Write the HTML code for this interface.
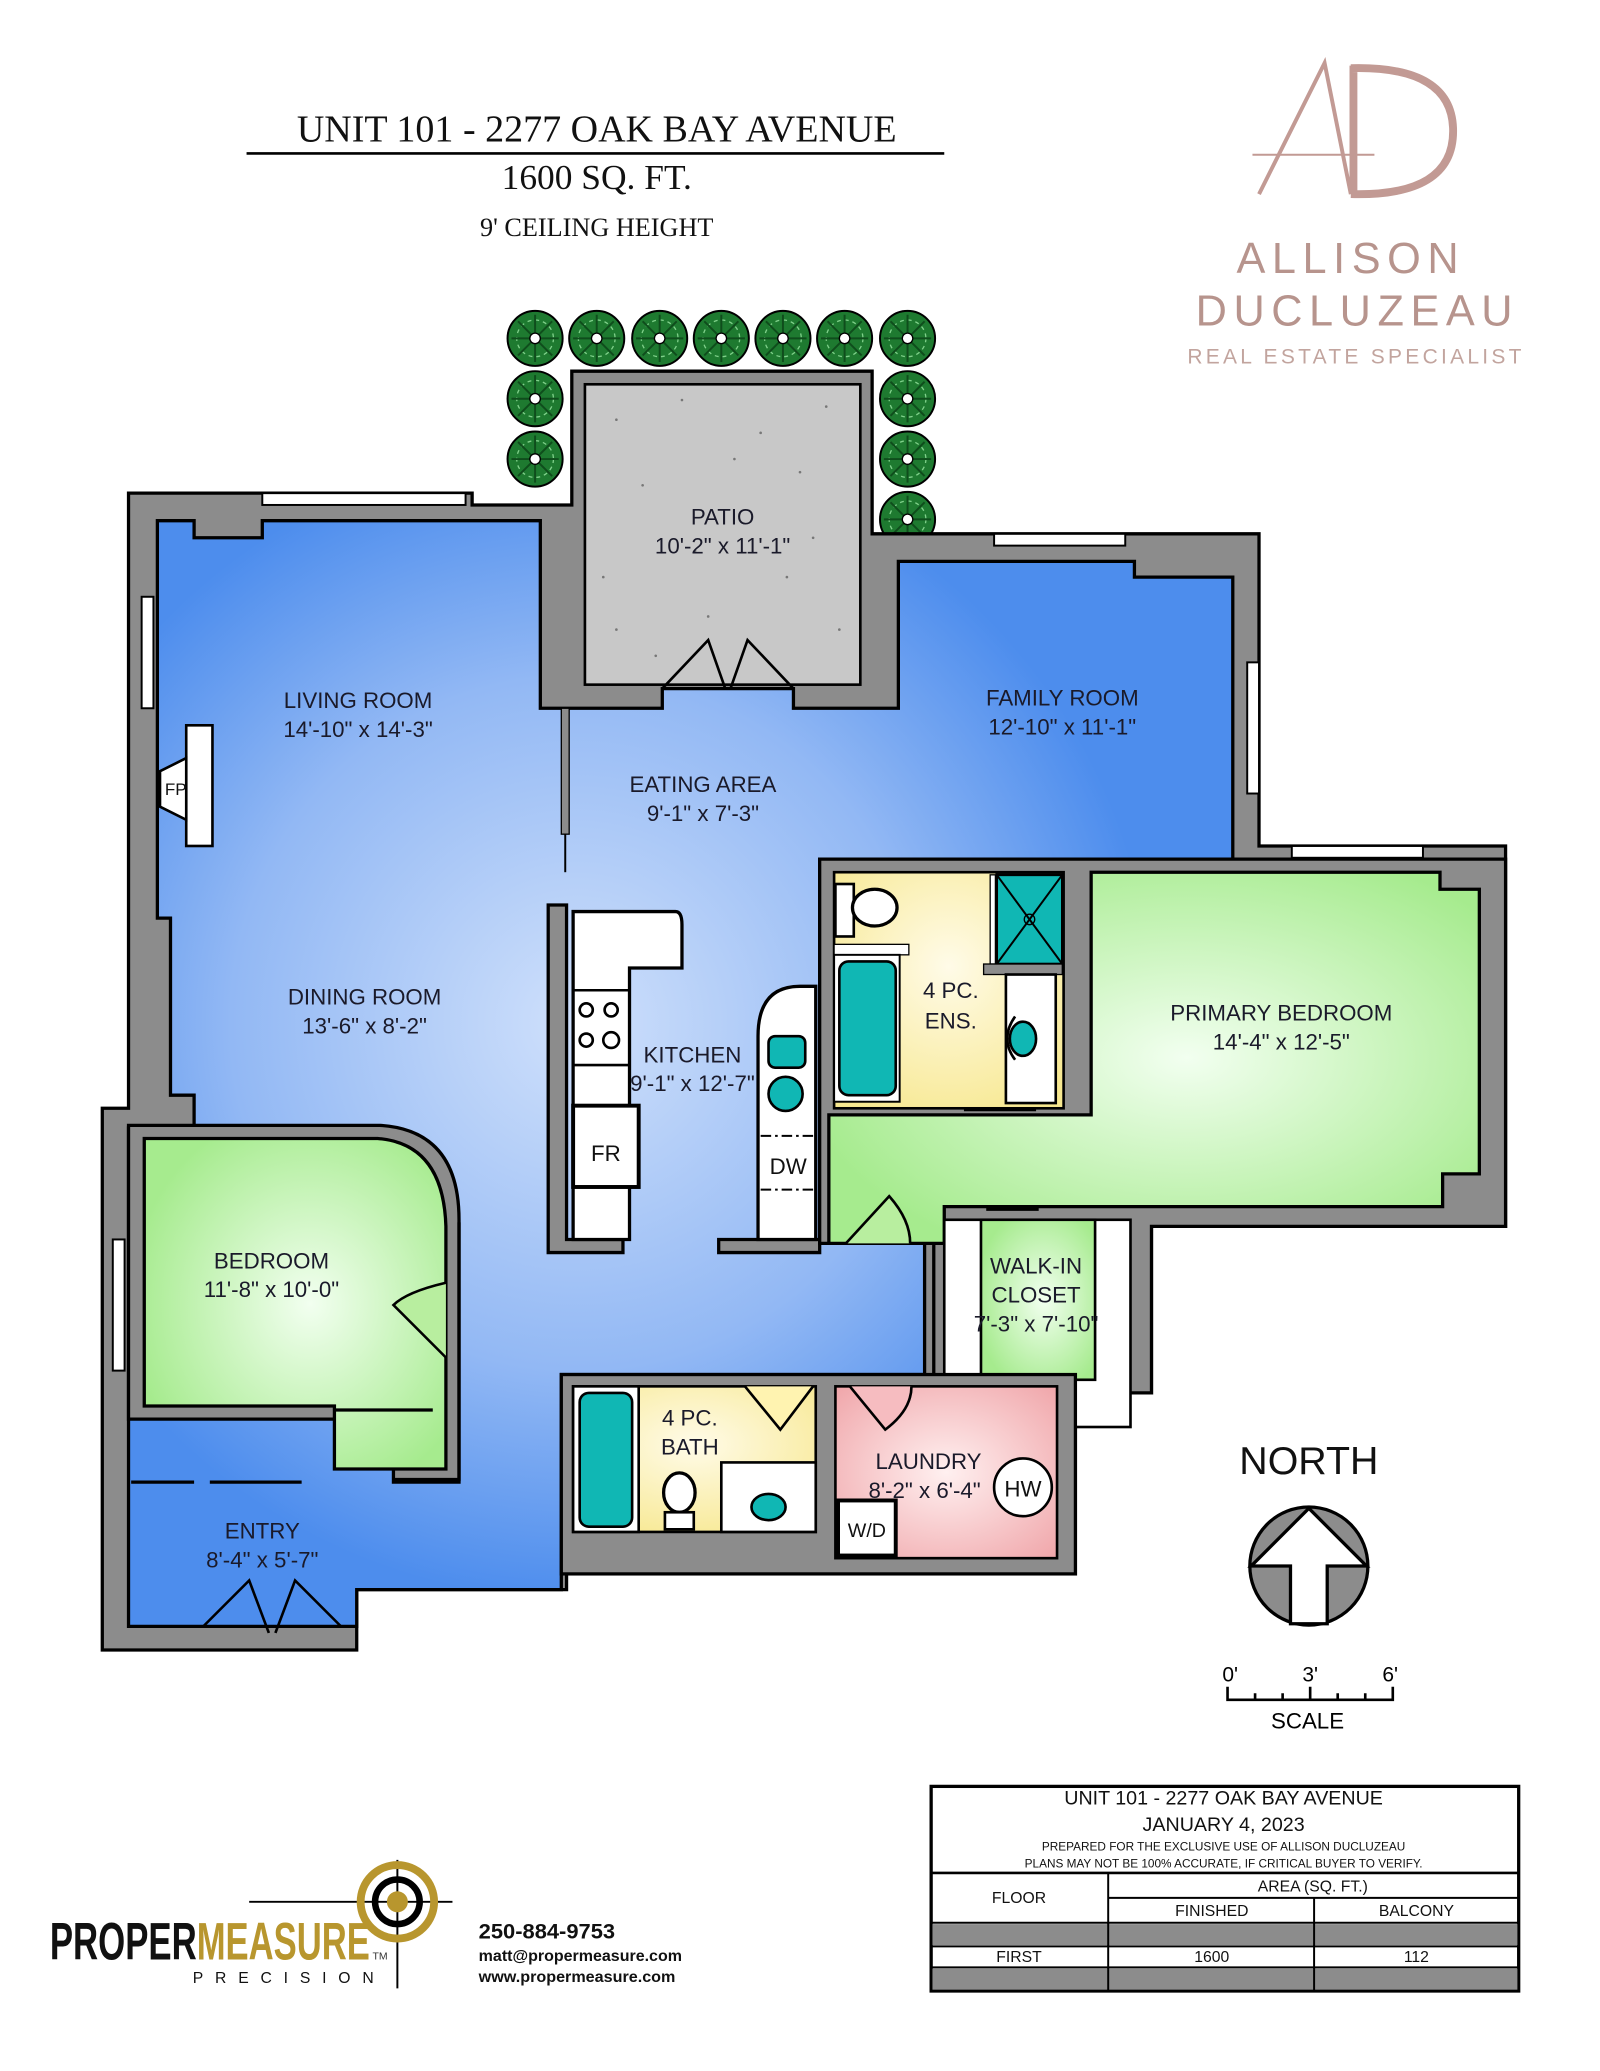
<!DOCTYPE html>
<html><head><meta charset="utf-8"><style>
html,body{margin:0;padding:0;background:#fff;}
svg{display:block;}
text{font-family:"Liberation Sans",sans-serif;}
.lb{font-size:17px;fill:#1a1a2a;text-anchor:middle;}
.sf{font-family:"Liberation Serif",serif;text-anchor:middle;fill:#111;}
.w{fill:#8c8c8c;stroke:#000;stroke-width:2.5;}
.k{stroke:#000;stroke-width:2.5;}
</style></head><body>
<svg width="1600" height="2071" viewBox="0 0 1220 1579" preserveAspectRatio="none" xmlns="http://www.w3.org/2000/svg">
<defs>
<radialGradient id="bl" gradientUnits="userSpaceOnUse" cx="440" cy="780" r="440">
<stop offset="0" stop-color="#cfe0fb"/><stop offset="0.6" stop-color="#92b8f4"/><stop offset="1" stop-color="#4d8ded"/></radialGradient>
<radialGradient id="gr" cx="0.55" cy="0.5" r="0.6">
<stop offset="0" stop-color="#f2fff0"/><stop offset="1" stop-color="#a6eb8e"/></radialGradient>
<radialGradient id="ye" cx="0.5" cy="0.4" r="0.7">
<stop offset="0" stop-color="#fffbe8"/><stop offset="1" stop-color="#f7e890"/></radialGradient>
<radialGradient id="pk" cx="0.5" cy="0.5" r="0.7">
<stop offset="0" stop-color="#fff0f0"/><stop offset="1" stop-color="#f0a6aa"/></radialGradient>
<g id="tree"><circle r="21" fill="#1e7a30" stroke="#000" stroke-width="1.5"/>
<circle r="14" fill="none" stroke="#7fd08a" stroke-width="1" stroke-dasharray="3 3"/>
<path d="M-18 0H18M0-18V18M-13-13L13 13M13-13L-13 13" stroke="#0f4d1c" stroke-width="1.5"/>
<circle r="4" fill="#fff" stroke="#000"/></g>
</defs>

<text x="455" y="108" class="sf" font-size="29">UNIT 101 - 2277 OAK BAY AVENUE</text>
<line x1="188" y1="117" x2="720" y2="117" stroke="#000" stroke-width="2"/>
<text x="455" y="144" class="sf" font-size="27">1600 SQ. FT.</text>
<text x="455" y="180" class="sf" font-size="20">9' CEILING HEIGHT</text>

<g fill="none" stroke="#c29a94" stroke-width="3">
<path d="M960 148 L1010 48 L1030 148"/><line x1="955" y1="118" x2="1048" y2="118" stroke-width="1.5"/>
<path d="M1032 50 L1032 148 M1030 52 Q1108 50 1108 100 Q1108 150 1030 148" stroke-width="6"/>
</g>
<text x="1030" y="208" font-family="Liberation Sans" font-size="33" fill="#b7948d" text-anchor="middle" letter-spacing="5">ALLISON</text>
<text x="1035" y="248" font-family="Liberation Sans" font-size="33" fill="#b7948d" text-anchor="middle" letter-spacing="5">DUCLUZEAU</text>
<text x="1034" y="277" font-family="Liberation Sans" font-size="16" fill="#c2a49e" text-anchor="middle" letter-spacing="2.5">REAL ESTATE SPECIALIST</text>

<g>
<use href="#tree" x="408" y="258"/><use href="#tree" x="455" y="258"/><use href="#tree" x="503" y="258"/><use href="#tree" x="550" y="258"/><use href="#tree" x="597" y="258"/><use href="#tree" x="644" y="258"/><use href="#tree" x="692" y="258"/>
<use href="#tree" x="408" y="304"/><use href="#tree" x="408" y="350"/>
<use href="#tree" x="692" y="304"/><use href="#tree" x="692" y="350"/><use href="#tree" x="692" y="396"/>
</g>

<path class="w" d="M98 376 L360 376 L360 385 L436 385 L436 283 L665 283 L665 407 L865 407 L865 407 L960 407 L960 645 L1148 645 L1148 935 L878 935 L878 1062 L820 1062 L820 1200 L625 1200 L625 1172 L432 1172 L432 1212 L272 1212 L272 1258 L78 1258 L78 845 L98 845 Z"/>
<g fill="#fff" stroke="#000" stroke-width="1.5">
<rect x="200" y="376" width="155" height="9"/><rect x="758" y="407" width="100" height="9"/>
<rect x="985" y="645" width="100" height="9"/><rect x="1139" y="735" width="9" height="100"/>
<rect x="951" y="505" width="9" height="100"/><rect x="108" y="455" width="9" height="85"/>
<rect x="136" y="730" width="9" height="100"/><rect x="86" y="945" width="9" height="100"/>
</g>

<rect x="446" y="293" width="210" height="229" fill="#c8c8c8" stroke="#000" stroke-width="2"/>
<g fill="#777">
<circle cx="470" cy="320" r="1"/><circle cx="520" cy="305" r="1"/><circle cx="580" cy="330" r="1"/><circle cx="630" cy="310" r="1"/><circle cx="490" cy="370" r="1"/><circle cx="610" cy="360" r="1"/><circle cx="460" cy="440" r="1"/><circle cx="540" cy="470" r="1"/><circle cx="600" cy="440" r="1"/><circle cx="640" cy="480" r="1"/><circle cx="500" cy="500" r="1"/><circle cx="560" cy="350" r="1"/><circle cx="470" cy="480" r="1"/><circle cx="620" cy="410" r="1"/><circle cx="530" cy="420" r="1"/></g>
<text x="551" y="400" class="lb">PATIO</text>
<text x="551" y="422" class="lb">10'-2" x 11'-1"</text>

<path fill="url(#bl)" stroke="#000" stroke-width="2.5" d="M120 397 L148 397 L148 410 L200 410 L200 397 L412 397 L412 540 L505 540 L505 525 L605 525 L605 540 L685 540 L685 428 L865 428 L865 440 L940 440 L940 655 L625 655 L625 948 L705 948 L705 1048 L428 1048 L428 1212 L272 1212 L272 1240 L98 1240 L98 860 L148 860 L148 835 L130 835 L130 700 L120 700 Z"/>
<path d="M100 1130 L148 1130 M160 1130 L230 1130" stroke="#000" stroke-width="2.5"/>
<path d="M505 525 L540 488 L553 525 M605 525 L570 488 L557 525" fill="none" stroke="#000" stroke-width="2"/>
<path d="M155 1240 L190 1205 L205 1245 M260 1240 L225 1205 L210 1245" fill="none" stroke="#000" stroke-width="2"/>
<rect x="428" y="540" width="6" height="96" fill="#8c8c8c" stroke="#000"/>
<line x1="431" y1="636" x2="431" y2="665" stroke="#000" stroke-width="1.5"/>
<rect x="142" y="553" width="20" height="92" fill="#fff" stroke="#000" stroke-width="2"/>
<path d="M142 578 L122 588 L122 615 L142 625 Z" fill="#fff" stroke="#000" stroke-width="2"/>
<text x="134" y="606" font-size="13" text-anchor="middle" fill="#111">FP</text>

<path class="w" d="M98 858 L290 858 Q350 862 350 930 L350 1130 L300 1130 L300 1082 L98 1082 Z" stroke="none"/>
<path fill="url(#gr)" stroke="#000" stroke-width="2.5" d="M110 868 L288 868 Q338 872 340 935 L340 1120 L255 1120 L255 1072 L110 1072 Z"/>
<path d="M350 932 L350 1128 L300 1128" fill="none" stroke="#000" stroke-width="2.5"/>
<path d="M340 978 Q310 985 300 995 L340 1035" fill="#b8ee9f" stroke="#000" stroke-width="2"/>
<path d="M255 1075 L330 1075" stroke="#000" stroke-width="2.5"/>

<path class="w" d="M418 690 L432 690 L432 945 L475 945 L475 955 L418 955 Z"/>
<path fill="#fff" stroke="#000" stroke-width="2.5" d="M437 695 L515 695 Q520 695 520 705 L520 738 L480 738 L480 945 L437 945 Z"/>
<line x1="437" y1="755" x2="480" y2="755" stroke="#000" stroke-width="2"/>
<line x1="437" y1="812" x2="480" y2="812" stroke="#000" stroke-width="2"/>
<g fill="none" stroke="#000" stroke-width="2"><circle cx="447" cy="770" r="5"/><circle cx="466" cy="770" r="5"/><circle cx="447" cy="793" r="5"/><circle cx="466" cy="793" r="6"/></g>
<rect x="437" y="843" width="50" height="62" fill="#fff" stroke="#000" stroke-width="3"/>
<text x="462" y="885" font-size="17" text-anchor="middle" fill="#111">FR</text>
<path class="w" d="M548 945 L625 945 L625 955 L548 955 Z"/>
<path fill="#fff" stroke="#000" stroke-width="2.5" d="M578 945 L578 790 Q578 752 610 752 L622 752 L622 945 Z"/>
<rect x="586" y="790" width="28" height="24" rx="5" fill="#10b7b4" stroke="#000" stroke-width="2"/>
<circle cx="599" cy="834" r="13" fill="#10b7b4" stroke="#000" stroke-width="2"/>
<path d="M580 866 L620 866 M580 907 L620 907" stroke="#000" stroke-width="1.5" stroke-dasharray="8 3 2 3"/>
<text x="601" y="895" font-size="17" text-anchor="middle" fill="#111">DW</text>

<path class="w" d="M625 655 L1148 655 L1148 935 L878 935 L878 1062 L806 1062 L806 1090 L712 1090 L712 948 L625 948 Z"/>
<rect x="636" y="665" width="175" height="180" fill="url(#ye)" stroke="#000" stroke-width="2"/>
<rect x="760" y="667" width="50" height="68" fill="#10b7b4" stroke="#000" stroke-width="2"/>
<path d="M760 667 L810 735 M810 667 L760 735" stroke="#000" stroke-width="1.5"/>
<circle cx="785" cy="701" r="4" fill="none" stroke="#000"/>
<rect x="755" y="667" width="4" height="68" fill="#fff" stroke="#000"/>
<rect x="750" y="735" width="60" height="8" fill="#8c8c8c" stroke="#000"/>
<rect x="767" y="743" width="38" height="98" fill="#fff" stroke="#000" stroke-width="2"/>
<ellipse cx="780" cy="792" rx="10" ry="13" fill="#10b7b4" stroke="#000" stroke-width="2"/>
<path d="M774 775 Q762 792 774 808" fill="none" stroke="#000" stroke-width="2"/>
<rect x="636" y="720" width="57" height="8" fill="#fff" stroke="#000"/>
<rect x="636" y="728" width="50" height="112" fill="#fff" stroke="#000" stroke-width="1.5"/>
<rect x="640" y="733" width="43" height="102" rx="7" fill="#10b7b4" stroke="#000" stroke-width="2"/>
<rect x="637" y="674" width="14" height="40" fill="#fff" stroke="#000" stroke-width="2"/>
<ellipse cx="667" cy="692" rx="17" ry="14" fill="#fff" stroke="#000" stroke-width="2.5"/>
<path d="M735 846 L790 846" stroke="#000" stroke-width="2.5"/>
<path fill="url(#gr)" stroke="#000" stroke-width="2.5" d="M832 665 L1098 665 L1098 678 L1128 678 L1128 895 L1100 895 L1100 920 L720 920 L720 948 L632 948 L632 850 L832 850 Z"/>
<path d="M645 948 L678 912 Q694 930 694 948" fill="#b8ee9f" stroke="#000" stroke-width="2"/>
<path d="M752 922 L792 922" stroke="#000" stroke-width="2.5"/>
<rect x="720" y="930" width="142" height="158" fill="#fff" stroke="#000" stroke-width="2"/>
<rect x="748" y="930" width="87" height="122" fill="url(#gr)" stroke="#000" stroke-width="2"/>
<rect x="720" y="1052" width="85" height="36" fill="#fff" stroke="#000" stroke-width="2"/>

<rect x="428" y="1048" width="392" height="152" class="w" stroke="none"/>
<rect x="437" y="1057" width="185" height="111" fill="url(#ye)" stroke="#000" stroke-width="2"/>
<rect x="437" y="1057" width="50" height="111" fill="#fff" stroke="#000" stroke-width="2"/>
<rect x="442" y="1062" width="40" height="102" rx="7" fill="#10b7b4" stroke="#000" stroke-width="2"/>
<rect x="550" y="1115" width="72" height="53" fill="#fff" stroke="#000" stroke-width="2"/>
<ellipse cx="586" cy="1149" rx="13" ry="10" fill="#10b7b4" stroke="#000" stroke-width="2"/>
<ellipse cx="518" cy="1138" rx="12" ry="15" fill="#fff" stroke="#000" stroke-width="2.5"/>
<rect x="507" y="1153" width="22" height="13" fill="#fff" stroke="#000" stroke-width="2"/>
<path d="M568 1057 L595 1090 L620 1057" fill="#fff3b0" stroke="#000" stroke-width="2"/>
<rect x="637" y="1057" width="169" height="131" fill="url(#pk)" stroke="#000" stroke-width="2"/>
<path d="M648 1057 L675 1090 Q695 1075 695 1057" fill="#f6bcc0" stroke="#000" stroke-width="2"/>
<rect x="639" y="1144" width="44" height="42" fill="#fff" stroke="#000" stroke-width="3"/>
<text x="661" y="1172" font-size="15" text-anchor="middle" fill="#111">W/D</text>
<circle cx="780" cy="1134" r="22" fill="#fff" stroke="#000" stroke-width="2"/>
<text x="780" y="1141" font-size="17" text-anchor="middle" fill="#111">HW</text>

<text x="273" y="540" class="lb">LIVING ROOM</text><text x="273" y="562" class="lb">14'-10" x 14'-3"</text>
<text x="536" y="604" class="lb">EATING AREA</text><text x="536" y="626" class="lb">9'-1" x 7'-3"</text>
<text x="810" y="538" class="lb">FAMILY ROOM</text><text x="810" y="560" class="lb">12'-10" x 11'-1"</text>
<text x="278" y="766" class="lb">DINING ROOM</text><text x="278" y="788" class="lb">13'-6" x 8'-2"</text>
<text x="528" y="810" class="lb">KITCHEN</text><text x="528" y="832" class="lb">9'-1" x 12'-7"</text>
<text x="725" y="761" class="lb">4 PC.</text><text x="725" y="784" class="lb">ENS.</text>
<text x="977" y="778" class="lb">PRIMARY BEDROOM</text><text x="977" y="800" class="lb">14'-4" x 12'-5"</text>
<text x="207" y="967" class="lb">BEDROOM</text><text x="207" y="989" class="lb">11'-8" x 10'-0"</text>
<text x="790" y="971" class="lb">WALK-IN</text><text x="790" y="993" class="lb">CLOSET</text><text x="790" y="1015" class="lb">7'-3" x 7'-10"</text>
<text x="526" y="1087" class="lb">4 PC.</text><text x="526" y="1109" class="lb">BATH</text>
<text x="708" y="1120" class="lb">LAUNDRY</text><text x="705" y="1142" class="lb">8'-2" x 6'-4"</text>
<text x="200" y="1173" class="lb">ENTRY</text><text x="200" y="1195" class="lb">8'-4" x 5'-7"</text>

<text x="998" y="1124" font-size="30" text-anchor="middle" fill="#111">NORTH</text>
<circle cx="998" cy="1194" r="45" fill="#8c8c8c" stroke="#000" stroke-width="2.5"/>
<path d="M998 1150 L1042 1194 L1012 1194 L1012 1238 L984 1238 L984 1194 L954 1194 Z" fill="#fff" stroke="#000" stroke-width="2.5"/>
<text x="938" y="1282" font-size="16" text-anchor="middle">0'</text><text x="999" y="1282" font-size="16" text-anchor="middle">3'</text><text x="1060" y="1282" font-size="16" text-anchor="middle">6'</text>
<path d="M936 1286 V1296 H1062 V1286 M957 1291V1296 M978 1291V1296 M999 1286V1296 M1020 1291V1296 M1041 1291V1296" fill="none" stroke="#000" stroke-width="2"/>
<text x="997" y="1318" font-size="17" text-anchor="middle">SCALE</text>

<g stroke="#000" fill="none">
<rect x="710" y="1362" width="448" height="156" stroke-width="2.5"/>
<line x1="710" y1="1428" x2="1158" y2="1428" stroke-width="2"/>
<line x1="845" y1="1447" x2="1158" y2="1447" stroke-width="1.5"/>
<line x1="710" y1="1466" x2="1158" y2="1466" stroke-width="1.5"/>
<line x1="710" y1="1484" x2="1158" y2="1484" stroke-width="1.5"/>
<line x1="710" y1="1500" x2="1158" y2="1500" stroke-width="1.5"/>
<line x1="845" y1="1428" x2="845" y2="1518" stroke-width="1.5"/>
<line x1="1002" y1="1447" x2="1002" y2="1518" stroke-width="1.5"/>
</g>
<rect x="711" y="1467" width="446" height="16" fill="#8c8c8c"/>
<rect x="711" y="1501" width="446" height="16" fill="#8c8c8c"/>
<path d="M845 1466V1484 M1002 1466V1484 M845 1500V1518 M1002 1500V1518" stroke="#000" stroke-width="1.5"/>
<g text-anchor="middle" fill="#111">
<text x="933" y="1376" font-size="15">UNIT 101 - 2277 OAK BAY AVENUE</text>
<text x="933" y="1396" font-size="15">JANUARY 4, 2023</text>
<text x="933" y="1411" font-size="9">PREPARED FOR THE EXCLUSIVE USE OF ALLISON DUCLUZEAU</text>
<text x="933" y="1424" font-size="9">PLANS MAY NOT BE 100% ACCURATE, IF CRITICAL BUYER TO VERIFY.</text>
<text x="777" y="1451" font-size="12">FLOOR</text>
<text x="1001" y="1442" font-size="12">AREA (SQ. FT.)</text>
<text x="924" y="1461" font-size="12">FINISHED</text>
<text x="1080" y="1461" font-size="12">BALCONY</text>
<text x="777" y="1496" font-size="12">FIRST</text>
<text x="924" y="1496" font-size="12">1600</text>
<text x="1080" y="1496" font-size="12">112</text>
</g>

<line x1="190" y1="1450" x2="345" y2="1450" stroke="#000" stroke-width="1.5"/>
<line x1="303" y1="1418" x2="303" y2="1516" stroke="#000" stroke-width="1.5"/>
<circle cx="303" cy="1450" r="28" fill="none" stroke="#b8962e" stroke-width="6"/>
<circle cx="303" cy="1450" r="17" fill="none" stroke="#000" stroke-width="5"/>
<circle cx="303" cy="1450" r="8" fill="#b8962e"/>
<text x="38" y="1494" font-size="40" font-weight="bold" fill="#111" textLength="112" lengthAdjust="spacingAndGlyphs">PROPER</text>
<text x="150" y="1494" font-size="40" font-weight="bold" fill="#b8962e" textLength="132" lengthAdjust="spacingAndGlyphs">MEASURE</text>
<text x="284" y="1494" font-size="8" fill="#333">TM</text>
<text x="147" y="1512" font-size="12" fill="#111" letter-spacing="9">PRECISION</text>
<text x="365" y="1478" font-size="16" font-weight="bold" fill="#111" textLength="104" lengthAdjust="spacingAndGlyphs">250-884-9753</text>
<text x="365" y="1495" font-size="12" font-weight="bold" fill="#111" textLength="155" lengthAdjust="spacingAndGlyphs">matt@propermeasure.com</text>
<text x="365" y="1511" font-size="12" font-weight="bold" fill="#111" textLength="150" lengthAdjust="spacingAndGlyphs">www.propermeasure.com</text>
</svg>
</body></html>
